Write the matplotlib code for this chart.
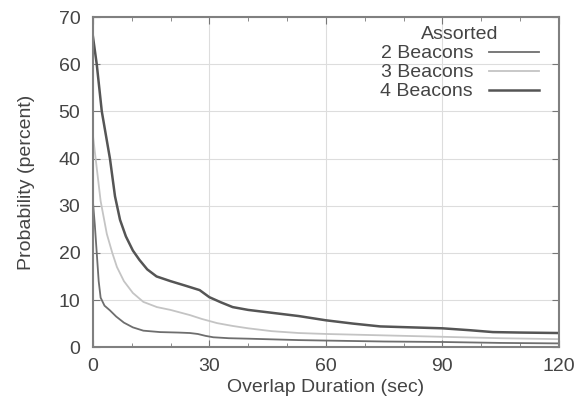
import matplotlib
matplotlib.use("Agg")
import matplotlib.pyplot as plt
from matplotlib.ticker import MultipleLocator

plt.rcParams['font.family'] = ['Liberation Sans', 'DejaVu Sans']

# overlap duration (sec) and probability (percent) per series
x2 = [0, 0.5, 1, 1.5, 2, 3, 4.4, 6, 8, 10.3, 13, 17.3, 22, 25, 27, 29, 31, 35, 40, 53, 60, 75, 90, 105, 120]
y2 = [31, 26, 20, 14, 10.5, 8.8, 7.8, 6.5, 5.2, 4.2, 3.5, 3.2, 3.1, 3.0, 2.8, 2.4, 2.1, 1.9, 1.8, 1.5, 1.4, 1.2, 1.1, 0.9, 0.8]

x3 = [0, 1, 2, 3.6, 5, 6.2, 8, 10.3, 13, 16.5, 20, 25, 28, 32, 36, 40, 46, 53, 60, 75, 90, 105, 120]
y3 = [45, 38, 31, 24, 20, 17, 14, 11.5, 9.6, 8.5, 7.9, 6.8, 6.0, 5.1, 4.5, 4.0, 3.4, 3.0, 2.8, 2.5, 2.2, 1.9, 1.7]

x4 = [0, 1, 2.3, 4.4, 5.7, 7, 8.5, 10.3, 12, 14, 16.4, 20, 24, 27.5, 30, 33, 36, 40, 46, 53, 60, 67, 74, 82, 90, 97, 103, 110, 120]
y4 = [66, 60, 50, 40, 32, 27, 23.5, 20.5, 18.5, 16.5, 15, 14, 13, 12.1, 10.6, 9.5, 8.5, 7.9, 7.3, 6.6, 5.7, 5.0, 4.4, 4.2, 4.0, 3.6, 3.2, 3.1, 3.0]

labels = ['2 Beacons', '3 Beacons', '4 Beacons']

fig = plt.figure(figsize=(5.84, 4.07), dpi=100)
ax = fig.add_axes([0.159, 0.147, 0.798, 0.811])

ax.plot(x2, y2, color='#6e6e6e', lw=1.3, label=labels[0])
ax.plot(x3, y3, color='#c4c4c4', lw=1.3, label=labels[1])
ax.plot(x4, y4, color='#555555', lw=1.8, label=labels[2])

ax.set_xlim(0, 120)
ax.set_ylim(0, 70)
ax.xaxis.set_major_locator(MultipleLocator(30))
ax.xaxis.set_minor_locator(MultipleLocator(10))
ax.yaxis.set_major_locator(MultipleLocator(10))
ax.grid(True, which='major', color='#dddddd', lw=0.8)
ax.tick_params(which='both', direction='in', top=True, right=True,
               colors='#777777', labelcolor='#444444', labelsize=14)
ax.tick_params(which='major', length=5)
ax.tick_params(which='minor', length=3)
ax.tick_params(axis='x', pad=8)
ax.tick_params(axis='y', pad=9)
for s in ax.spines.values():
    s.set_color('#808080')
    s.set_linewidth(1.5)

ax.set_xlabel('Overlap Duration (sec)', fontsize=14, color='#444444', labelpad=3)
ax.set_ylabel('Probability (percent)', fontsize=14, color='#444444', labelpad=17)

leg = ax.legend(title='Assorted', loc='upper right', bbox_to_anchor=(0.987, 1.013),
                markerfirst=False, frameon=False,
                fontsize=14, title_fontsize=14, handlelength=2.6, labelspacing=0.07,
                borderaxespad=0.3, handletextpad=0.8)
for t in leg.get_texts():
    t.set_color('#444444')
leg.get_title().set_color('#444444')

fig.savefig('out.png', dpi=100)
